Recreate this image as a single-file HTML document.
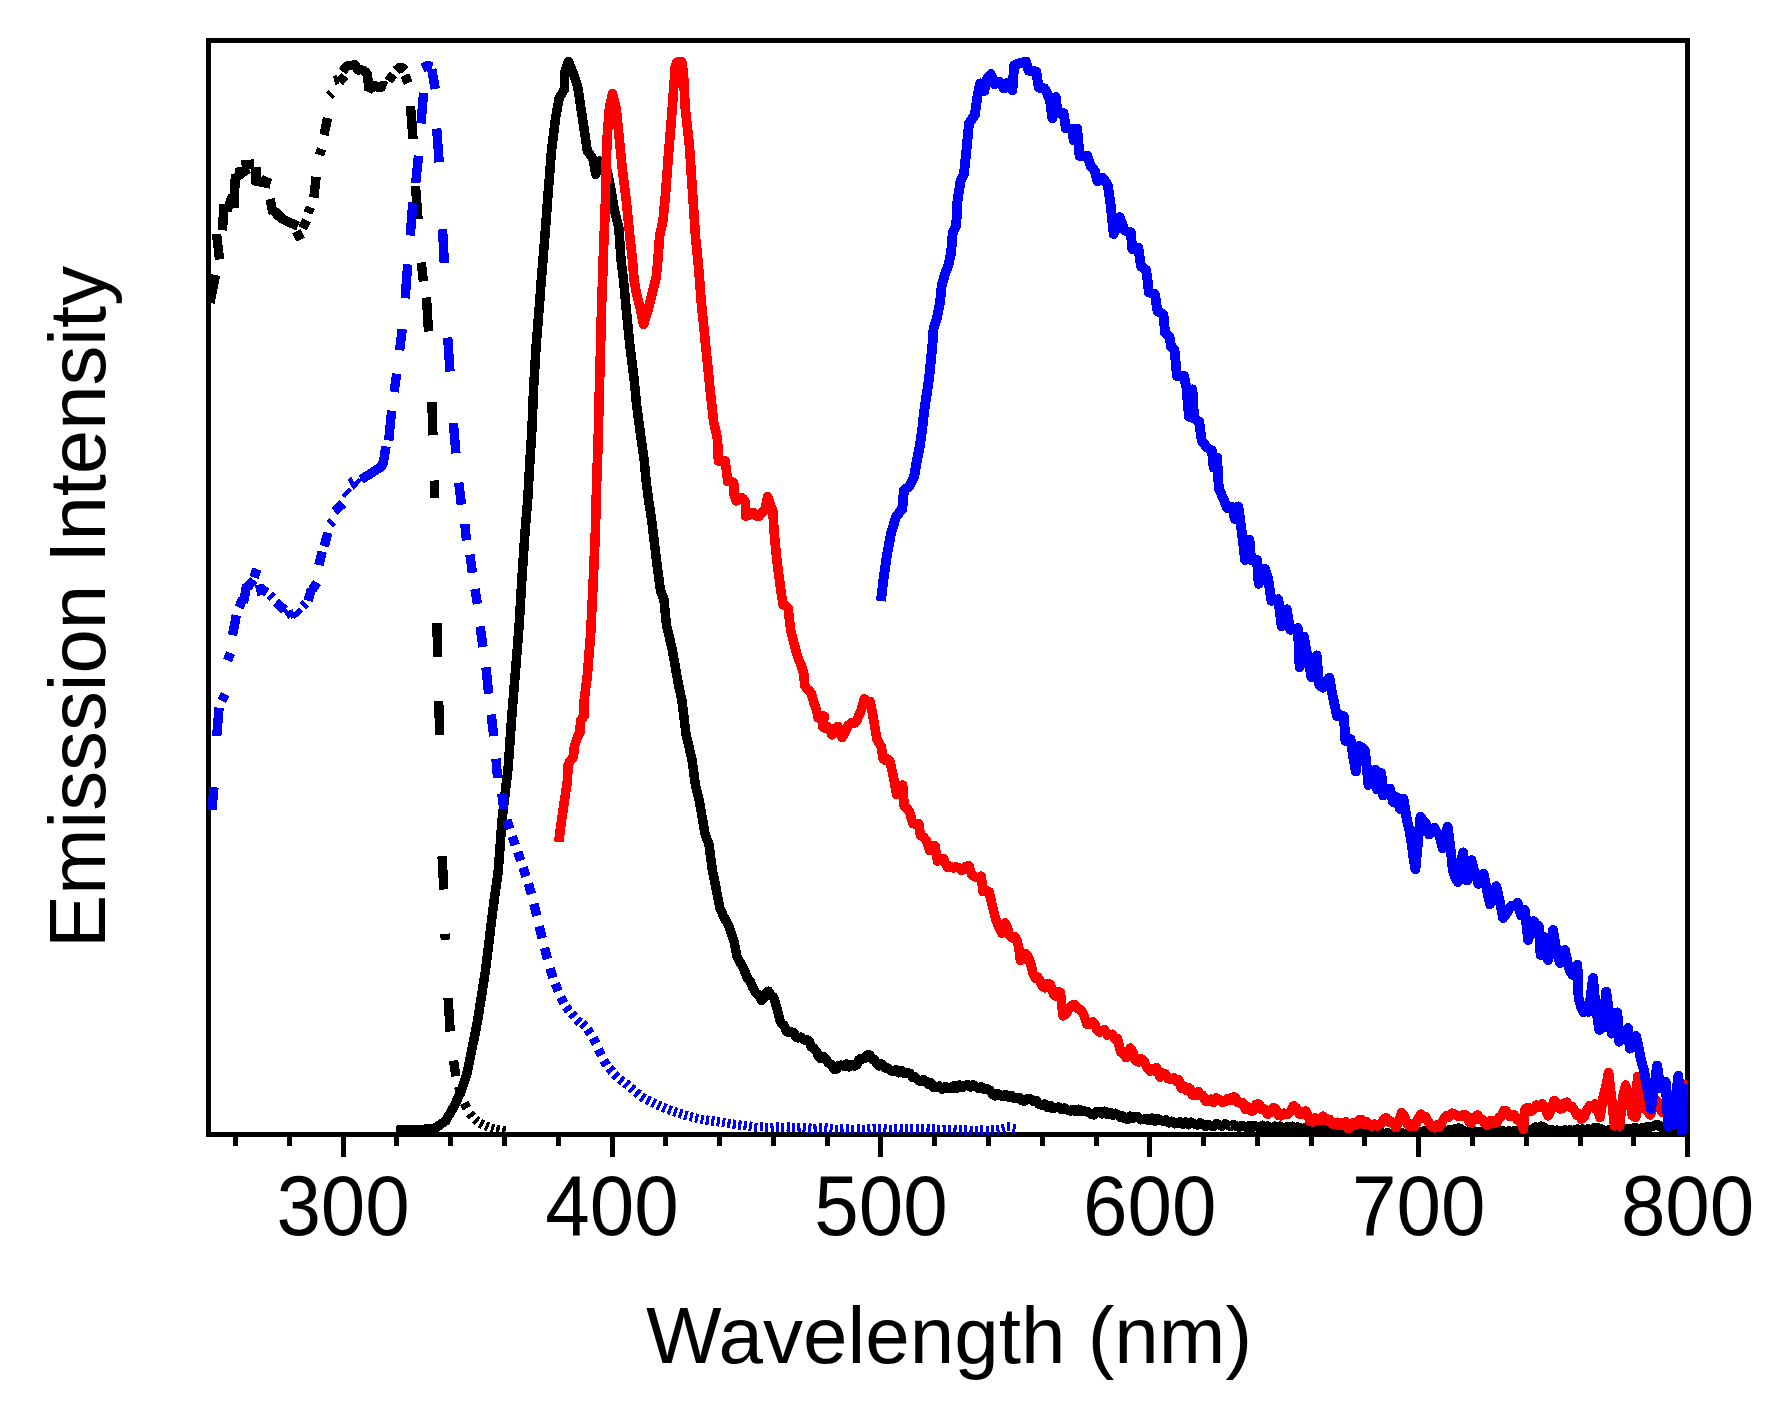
<!DOCTYPE html>
<html lang="en"><head><meta charset="utf-8"><title>Emission spectra</title>
<style>html,body{margin:0;padding:0;background:#fff}svg{display:block}text{font-family:"Liberation Sans",sans-serif;fill:#000}</style></head><body>
<svg width="1778" height="1410" viewBox="0 0 1778 1410">
<rect width="1778" height="1410" fill="#fff"/>
<defs><clipPath id="c"><rect x="208.0" y="40.6" width="1479.8" height="1094.1"/></clipPath></defs>
<g fill="none" stroke="#000" shape-rendering="crispEdges">
<rect x="208.7" y="40.6" width="1478.9" height="1093.8" stroke-width="5"/>
<path d="M235.6 1134.4 V1145.8 M289.4 1134.4 V1145.8 M343.1 1134.4 V1156.6 M396.9 1134.4 V1145.8 M450.7 1134.4 V1145.8 M504.5 1134.4 V1145.8 M558.3 1134.4 V1145.8 M612 1134.4 V1156.6 M665.8 1134.4 V1145.8 M719.6 1134.4 V1145.8 M773.4 1134.4 V1145.8 M827.1 1134.4 V1145.8 M880.9 1134.4 V1156.6 M934.7 1134.4 V1145.8 M988.5 1134.4 V1145.8 M1042.3 1134.4 V1145.8 M1096 1134.4 V1145.8 M1149.8 1134.4 V1156.6 M1203.6 1134.4 V1145.8 M1257.4 1134.4 V1145.8 M1311.2 1134.4 V1145.8 M1364.9 1134.4 V1145.8 M1418.7 1134.4 V1156.6 M1472.5 1134.4 V1145.8 M1526.3 1134.4 V1145.8 M1580 1134.4 V1145.8 M1633.8 1134.4 V1145.8 M1687.6 1134.4 V1156.6" stroke-width="5"/>
</g>
<g clip-path="url(#c)" fill="none" stroke-linejoin="round" shape-rendering="crispEdges">
<path d="M396.2 1130.3 L398.9 1130.2 L401.6 1130.2 L404.3 1130.1 L406.9 1130 L409.6 1129.9 L412.3 1129.9 L415 1129.8 L417.8 1129.6 L420.6 1129.5 L423.4 1129.3 L426.1 1129.1 L428.9 1128.9 L431.7 1128.8 L434.5 1128.6 L437.2 1126.7 L440 1124.8 L442.8 1122.9 L445.5 1121 L448.5 1115.9 L451.5 1110.7 L454.5 1105.6 L456.8 1100.5 L459.2 1095.4 L461.5 1090.3 L464.2 1081.8 L467 1073.2 L469.6 1060.5 L472.2 1047.7 L474.8 1035 L477.3 1022.2 L479.4 1009.4 L481.4 996.6 L485.4 971.1 L488.6 945.5 L491 925 L493.6 904.3 L496 887.3 L498.3 870.3 L502.1 819.2 L505.1 793.7 L508.1 768.1 L511.5 720 L513.6 693.6 L515.8 667.3 L519.2 624.7 L521.7 582.2 L525.1 531.1 L527.7 500 L529.7 464.3 L531.9 430.3 L533.6 387.7 L536.2 345.1 L539.6 302.6 L541.3 280 L543.5 253.7 L545.6 227.3 L548.1 193.2 L551.5 150.7 L553.6 133.6 L555.8 116.6 L559.2 97.9 L561.8 93.7 L564.3 89.4 L564.6 72.4 L568.5 61.3 L571 67.7 L573.6 74 L575.8 80.8 L577.9 87.7 L580 102.2 L582.2 116.6 L584.8 133.6 L587.3 150.7 L590.2 154.9 L593.2 159.2 L595.8 174.5 L599.5 161 L603 163 L607 170 L611 190 L614.5 210.3 L616.6 218.8 L618.8 227.3 L621 260 L623.5 280 L625.6 302.6 L627.7 323.9 L629.8 345.1 L632 362.1 L634.1 379.2 L636.6 404.7 L640 430.3 L642.1 445.6 L644.3 460.9 L646 480 L648.6 500 L652 522.6 L654.5 543.9 L657.1 565.1 L660.5 590.7 L663.9 599.2 L666.4 624.7 L669.4 637.5 L672.4 650.3 L675.4 667.3 L678.4 684.3 L681.8 700 L684.3 720 L686 734.1 L689 746.9 L692 759.6 L695.4 785.1 L697.5 793.7 L699.6 802.2 L702.2 817.5 L704.8 832.8 L706.9 838.8 L709 844.7 L712.4 870.3 L715 883 L717.5 895.8 L720 908.5 L723.5 916.2 L726 920.9 L728.5 925.5 L731.1 932.8 L733.7 940 L737 956.2 L739.8 961.9 L742.7 966.5 L745.5 973.2 L747.8 979 L750.1 981.2 L752.4 986.8 L755.5 992.6 L758.6 994.6 L761.7 1000.5 L764 998.2 L766.2 993.4 L768.5 991.1 L771 995.6 L773.6 997.1 L776.6 1007.1 L779.6 1019.2 L781.9 1024.2 L784.1 1025.5 L786.4 1031.1 L789 1032.7 L791.5 1032 L793.8 1032.5 L796 1037.1 L798.3 1037.9 L801.1 1037.2 L804 1040 L806.8 1039.6 L809.1 1041.1 L811.3 1046.8 L813.6 1048.1 L816.2 1051.1 L818.8 1056.6 L821.1 1058.6 L823.3 1056.5 L825.6 1058.4 L828.4 1062.9 L831.3 1064.3 L834.1 1069.4 L836.4 1069.3 L838.6 1065.6 L840.9 1065.2 L843.6 1066.2 L846.3 1064 L849.1 1066.9 L851.8 1064.5 L854.5 1066 L856.8 1065 L859 1059.6 L861.3 1058.4 L864.1 1058.8 L867 1055 L869.8 1054.9 L872.1 1059.2 L874.3 1059.5 L876.6 1063.5 L878.9 1065.9 L881.2 1063.7 L883.5 1066 L885.8 1068.3 L888 1068 L890.3 1070.3 L893.1 1071.7 L896 1069.6 L898.8 1072.7 L901.6 1070.7 L904.5 1073.4 L907.3 1072.8 L909.8 1073.3 L912.4 1077.3 L915 1076.8 L917.5 1079.6 L920.3 1081.4 L923.2 1079.5 L926 1081.3 L928.5 1084.3 L931.1 1083 L933.7 1087.3 L936.2 1087.3 L939.2 1086 L942.2 1089.3 L945.2 1086.6 L948.2 1088.2 L951 1088.7 L953.9 1085.8 L956.7 1088.5 L959.5 1084.9 L962.4 1087.3 L965.2 1085.6 L967.8 1084.4 L970.3 1087 L972.9 1084.7 L975.4 1086.4 L978.4 1088.3 L981.3 1086.7 L984.3 1089.2 L987.3 1089 L989.8 1090.1 L992.4 1094.1 L994.9 1095.9 L997.5 1093.7 L1000 1094.8 L1002.8 1096.7 L1005.6 1094.5 L1008.5 1097 L1011.3 1095.5 L1014.1 1098.4 L1016.9 1097.4 L1019.4 1097.6 L1021.9 1100.7 L1024.7 1101 L1027.6 1098.3 L1030.4 1099 L1033.4 1101.3 L1036.3 1100.6 L1039.2 1104.6 L1042.2 1105 L1044.9 1104 L1047.6 1107.6 L1050.3 1105.3 L1053 1108.6 L1055.7 1107.5 L1058.7 1107.1 L1061.6 1109.6 L1064.5 1108.1 L1067.5 1110 L1070.3 1111 L1073.1 1109.3 L1076 1111.6 L1078.8 1109.3 L1081.6 1111.7 L1084.4 1110.9 L1087.8 1111.7 L1091.1 1114.2 L1093.9 1114.9 L1096.7 1111.5 L1099.5 1111.7 L1102.2 1113.8 L1104.8 1111.2 L1107.5 1114.3 L1110.1 1112.5 L1112.8 1115.3 L1115.4 1113.3 L1118.1 1115.1 L1120.4 1117.5 L1122.6 1116.1 L1124.9 1118.5 L1127.4 1119.4 L1130 1116.1 L1132.5 1118.4 L1135 1116.8 L1137.8 1116.5 L1140.6 1119.8 L1143.4 1119.3 L1146.2 1118.4 L1149 1120.6 L1151.8 1118.1 L1154.7 1121.1 L1157.5 1118.7 L1160.3 1120.1 L1163.1 1121.4 L1165.9 1119.9 L1168.8 1122.8 L1171.6 1121.2 L1174.4 1123.8 L1177.2 1123 L1180 1121.8 L1182.8 1124.1 L1185.6 1122 L1188.4 1124.6 L1191.2 1122.2 L1194 1123.7 L1197 1125 L1200 1122.9 L1203 1124.5 L1205.6 1126.3 L1208.3 1124.5 L1210.9 1125.8 L1213.6 1126.2 L1216.3 1123.7 L1219 1124.6 L1221.9 1126.3 L1224.9 1123.9 L1227.8 1125 L1230.5 1126.5 L1233.3 1124.4 L1236 1126 L1238.9 1127.3 L1241.7 1125.3 L1244.6 1126.6 L1247.1 1127.6 L1249.6 1125.5 L1252 1127.8 L1254.5 1125.5 L1257 1126.5 L1259.6 1127.8 L1262.2 1125.4 L1264.8 1127.8 L1267.4 1125.9 L1270 1127.3 L1272.5 1128.7 L1275 1126.3 L1277.5 1128.4 L1280 1126 L1282.5 1128.5 L1285 1127.5 L1287.5 1126.6 L1290 1128.8 L1292.5 1126.4 L1295 1128.7 L1297.5 1126.9 L1300 1128 L1303 1129.4 L1306 1127.3 L1309 1130.3 L1312 1129.5 L1314.6 1127.3 L1317.2 1129.1 L1319.8 1127.5 L1322.2 1128 L1324.6 1130.7 L1327 1131 L1329.6 1130.3 L1332.1 1132.3 L1334.7 1131.2 L1337.3 1132.7 L1339.9 1131.7 L1342.4 1133.3 L1345 1133 L1347.5 1132.1 L1350 1133.9 L1352.5 1132.4 L1355 1133 L1357.5 1132.9 L1360 1131.5 L1362.5 1131.6 L1365 1133.5 L1367.8 1134.3 L1370.6 1132.6 L1373.3 1134.2 L1376.1 1132.9 L1378.9 1134.1 L1381.7 1132.6 L1384.4 1134.1 L1387.2 1132.8 L1390 1133.5 L1392.9 1134.1 L1395.7 1132.6 L1398.6 1134 L1401.4 1132.3 L1404.3 1133.7 L1407.1 1132.6 L1410 1133 L1413 1134 L1416 1132.1 L1419 1133 L1421.5 1132.7 L1424 1130.5 L1426.5 1131 L1429 1133 L1431.7 1133.8 L1434.3 1131.7 L1437 1133.1 L1439.7 1131.5 L1442.3 1133.1 L1445 1132 L1447.5 1130.2 L1450 1130 L1453 1130 L1456 1128.5 L1458.5 1128.1 L1461 1129 L1463.5 1130.9 L1466 1131.5 L1468.8 1131 L1471.6 1132.2 L1474.4 1131 L1477.2 1132.5 L1480 1132 L1482.9 1131 L1485.7 1132.4 L1488.6 1130.8 L1491.4 1132.6 L1494.3 1130.7 L1497.1 1132.5 L1500 1131.5 L1502.9 1130.5 L1505.7 1132.1 L1508.6 1130.8 L1511.4 1132.1 L1514.3 1130.6 L1517.1 1131.7 L1520 1131 L1522.5 1129.8 L1525 1131 L1527.5 1129.2 L1530 1129.5 L1532.8 1129.6 L1535.5 1127 L1538.2 1127.7 L1541 1126.2 L1543.3 1126.8 L1545.7 1129.7 L1548 1130 L1551 1129.5 L1554 1131.4 L1557 1130.1 L1560 1131 L1562.5 1131.4 L1565 1129.9 L1567.5 1131.4 L1570 1129.7 L1572.5 1131.1 L1575 1130 L1577.5 1129 L1580 1130.7 L1582.5 1128.8 L1585 1130.2 L1587.5 1128.8 L1590 1129.5 L1592.3 1129.8 L1594.7 1127.6 L1597 1127.5 L1599.3 1129.1 L1601.7 1128.9 L1604 1130.5 L1606.7 1131.2 L1609.3 1129.6 L1612 1131 L1614.7 1129.3 L1617.3 1130.6 L1620 1130 L1622.5 1129.1 L1625 1129.8 L1627.5 1128.3 L1630 1128.5 L1632.5 1129 L1635 1127.5 L1637.5 1129.4 L1640 1128.5 L1642.5 1127.6 L1645 1128.5 L1647.5 1126.7 L1650 1127 L1653.1 1126.4 L1656.2 1124.5 L1658.8 1125 L1661.4 1127.7 L1664 1128 L1666.8 1127.7 L1669.5 1129.7 L1672.2 1128.9 L1675 1130 L1677.6 1130.8 L1680.2 1129.6 L1682.8 1131.1 L1685.4 1129.5 L1688 1130.5" stroke="#000" stroke-width="9.5"/>
<path d="M558.7 842 L561.7 819.2 L565.5 793.6 L567.5 780 L568 766 L569.5 762 L573.3 757 L574.5 746 L578 736 L580 732 L580.5 721 L584 716 L584.2 700 L587.3 675.8 L590.7 633.2 L593.2 582.2 L595.4 531.1 L596.2 500 L597 470 L598 447.3 L599.2 396.2 L600.6 345.1 L601.7 302.6 L602.6 280 L603.4 252.8 L605.2 210.3 L606 167.7 L607.4 133.6 L609.4 108.1 L612.5 93.6 L616.2 108.1 L618.8 133.6 L622.2 167.7 L624.3 184.8 L626.4 201.8 L629.8 235.8 L632.4 260 L634.1 280 L636.6 294 L638.8 302.5 L640.9 311 L643.5 324.7 L645.6 317.9 L647.7 311 L649.9 302.5 L652 294 L654.1 285.5 L656.2 277 L657.9 260 L659.6 235.8 L663 220.5 L665.6 193.2 L668.1 159.2 L671.6 116.6 L674.1 82.6 L675.3 66 L676.8 62.3 L679.3 62 L681.8 61.8 L683.5 74 L685.2 108.1 L687.3 126.8 L689.4 145.6 L692 184.7 L695.4 235.8 L697.9 260 L699.6 280 L701.3 302.6 L703.5 323.9 L705.6 345.1 L707.8 366.4 L709.9 387.7 L713.6 421.8 L717.5 438.8 L718.4 460.9 L720.7 460.2 L722.9 462 L725.2 460.9 L727.7 481.3 L730.7 481.1 L733.7 483 L733.7 493.3 L736.2 500.9 L738.8 500 L741.3 497.5 L743.5 499.2 L745.6 502.6 L745.6 516.2 L748.5 515.4 L751.5 512.8 L754.1 512.9 L756.6 516.1 L759.2 516.2 L762.2 512.1 L765.1 509.4 L767.7 496.6 L770.2 504.5 L772.8 511.1 L774.5 536.6 L777.1 562.2 L780.5 587.7 L783 604.7 L785.5 605.3 L788.1 608.1 L790.7 630.3 L794.1 643.9 L796.7 653.3 L799.2 660.9 L801.5 666.2 L803.8 673.6 L804.7 685.5 L807 689 L809.2 690.4 L811.5 694.1 L813.6 701.9 L815.8 707.7 L818.3 717.9 L821.3 716.3 L824.3 716.2 L822.6 726.4 L824.9 728.1 L827.1 726.4 L829.4 728.1 L831.9 734.9 L834.9 731.3 L837.9 726.4 L840 731.3 L842.1 737.5 L845.1 732.5 L848.1 725.6 L850.9 723 L853.8 723.6 L856.6 721.3 L858.8 715.5 L860.9 711.1 L864.3 698.8 L867.2 701.1 L870.2 701.7 L873.6 719.6 L877.1 740 L879.2 742.8 L881.3 746.8 L883 758.8 L885.3 760.1 L887.5 759.1 L889.8 760.5 L893.2 775.8 L896.6 794.5 L899.6 790.7 L902.6 785.1 L904.3 806.4 L906.8 808.2 L909.4 811.5 L912.8 823.5 L915.8 824.2 L918.8 823.5 L920.5 835.4 L923.5 837.2 L926.4 840.5 L929.8 850.7 L932.3 849 L934.9 845.6 L937.5 860.9 L940.5 858.9 L943.5 858.4 L945.6 863.7 L947.7 867.7 L950.5 866.3 L953.4 868.1 L956.2 866.9 L958.8 867.6 L961.3 870.3 L963.9 869.6 L966.4 866.2 L969 866 L971.6 874.5 L975.3 877 L978.3 877.7 L981.3 876.2 L983 891.5 L986 890.8 L989 891.5 L992.4 906 L995.8 919.6 L998.8 927.2 L1001.7 933.2 L1005.1 923 L1007.2 926.9 L1009.4 934.9 L1012 937.8 L1014.5 936.6 L1016.6 939.4 L1018.7 946.8 L1020.4 960.5 L1023 958.8 L1025.6 953.6 L1028.2 956.6 L1030.7 963.9 L1033.2 974.1 L1035.5 978.4 L1037.7 977.1 L1040 980.9 L1042.5 986.2 L1045.1 987.7 L1047.7 983.7 L1050.2 984.3 L1053.6 994.5 L1055.9 996.1 L1058.2 991.6 L1060.5 992.8 L1063 1015.8 L1066 1013.9 L1069 1008.1 L1072 1005.2 L1074.9 1004.7 L1077.9 1008.7 L1080.9 1009.8 L1083.9 1014.9 L1086.9 1024.3 L1089.8 1024.7 L1092.8 1021.8 L1094.9 1024.6 L1097.1 1030.3 L1099.7 1032.2 L1102.2 1030.3 L1104.7 1029.7 L1107.3 1035.1 L1109.8 1034.5 L1112.4 1034.3 L1114.9 1039.1 L1117.5 1038.8 L1120.9 1052.4 L1123.5 1053.1 L1126 1057.5 L1128.2 1054.9 L1130.3 1048.1 L1132.8 1052.3 L1135.4 1060.1 L1138.2 1062 L1141.1 1058.8 L1143.9 1060.9 L1146.9 1067.2 L1149.9 1071.1 L1152.2 1068.7 L1154.4 1070.9 L1156.7 1067.7 L1160.1 1077.1 L1162.7 1073 L1165.2 1073.7 L1168.2 1078.6 L1171.1 1079.6 L1173.7 1077.9 L1176.2 1081 L1178.8 1079.6 L1181.4 1088.2 L1183.7 1086.1 L1185.9 1090 L1188.2 1087.3 L1190.3 1089 L1192.4 1095 L1195.4 1095.1 L1198.4 1091.6 L1200 1095.7 L1202.8 1095.4 L1205.6 1101.1 L1208.4 1101.6 L1211 1099.1 L1213.5 1102.6 L1216 1097.8 L1218.6 1099 L1221.9 1102.1 L1225.3 1101.6 L1227.6 1098.7 L1229.8 1100.7 L1232.1 1097.4 L1234.9 1097 L1237.7 1102.5 L1240.5 1103.3 L1243 1103.1 L1245.5 1109.3 L1248.1 1106.7 L1250.6 1110.9 L1253.4 1110.7 L1256.2 1104.2 L1259 1104.1 L1261.8 1109.3 L1264.7 1109 L1267.5 1114.2 L1270.5 1112.6 L1273.4 1107.5 L1275.9 1109 L1278.5 1115.3 L1281 1115.9 L1284.3 1113.2 L1287.7 1114.2 L1290.7 1111.4 L1293.6 1105.8 L1296.5 1108.2 L1299.5 1114.2 L1302.5 1114.3 L1305.5 1110.9 L1307.6 1114.3 L1309.7 1121 L1312.5 1122 L1315.3 1118 L1318.1 1119.3 L1320.4 1120.7 L1322.6 1116.2 L1324.9 1117.6 L1327.4 1121 L1330 1119.8 L1332.5 1124.2 L1335 1124.4 L1337.8 1122.4 L1340.6 1125.2 L1343.4 1122.7 L1345.7 1122.1 L1347.9 1128.2 L1350.2 1127.7 L1353 1123 L1355.8 1124.8 L1358.6 1120.1 L1361.1 1119.7 L1363.7 1124.5 L1366.2 1121.3 L1368.7 1124.4 L1371.5 1126.2 L1374.4 1124.2 L1377.2 1126 L1380.6 1123.9 L1383.9 1119.3 L1386.2 1117.8 L1388.4 1121.9 L1390.7 1121 L1393.2 1123 L1395.7 1127.7 L1398.7 1122 L1401.6 1112.5 L1404.1 1115.4 L1406.7 1122.8 L1409.2 1126 L1411.5 1124.1 L1413.7 1126.8 L1416 1124.4 L1418.5 1117.9 L1421 1114.2 L1423.3 1118 L1425.5 1116.7 L1427.8 1121 L1431.2 1126.1 L1434.5 1127.7 L1436.8 1125 L1439 1127.3 L1441.3 1124.4 L1443.8 1118.9 L1446.3 1115.9 L1449.1 1117 L1452 1113.1 L1454.8 1114.2 L1458.2 1116.5 L1461.5 1115.9 L1464 1114.6 L1466.6 1115.9 L1469.1 1121.6 L1471.6 1122.7 L1474.5 1117.1 L1477.5 1115.1 L1480 1119.7 L1482.6 1119.4 L1485.1 1124.4 L1487.4 1125.4 L1489.6 1120.9 L1491.9 1121 L1494.4 1123 L1496.9 1122.6 L1499.2 1117.3 L1501.6 1116.7 L1503.9 1110.7 L1506.4 1111 L1509 1116.1 L1511.5 1115.8 L1514.3 1114.9 L1517.2 1119.9 L1520 1119.2 L1523.4 1129.4 L1525.1 1109 L1527.9 1107.5 L1530.8 1111.4 L1533.6 1109 L1536.5 1105.1 L1539.3 1107.4 L1542.2 1103.9 L1545.2 1108.4 L1548.1 1115.8 L1551.1 1110.1 L1554.1 1100.5 L1557 1103.1 L1560 1109 L1562.3 1108.6 L1564.6 1102.9 L1566.9 1102.2 L1569.4 1107 L1572 1106.6 L1574.5 1110.7 L1576.8 1115.1 L1579 1114 L1581.3 1119.2 L1584.3 1116.4 L1587.3 1109 L1589.8 1105.7 L1592.4 1107.8 L1594.9 1103.9 L1597.5 1109.1 L1600 1117.5 L1603.5 1095.4 L1606 1086.2 L1608.6 1072.4 L1612 1102.2 L1614.5 1126 L1617 1123.9 L1619.6 1126 L1623 1095.4 L1625.6 1085.1 L1629 1095.4 L1632.4 1115.8 L1635.8 1117.5 L1637.5 1076.6 L1639.7 1082.5 L1641.8 1085.1 L1644.3 1109 L1647.2 1110.5 L1650 1115 L1653 1108.7 L1656 1100 L1659 1103.7 L1662 1112 L1665 1106.2 L1668 1098 L1670.3 1095 L1672.7 1098.6 L1675 1095.4 L1677.5 1098.3 L1680 1105 L1682.6 1096.5 L1685.2 1085.1 L1688 1090" stroke="#f00" stroke-width="9.6"/>
<path d="M880.9 601 L883.5 579.2 L886.9 555.4 L889 544.3 L891.1 533.2 L893.7 524.7 L896.2 516.2 L899.2 512.8 L902.2 509.4 L903.9 490.6 L906.9 488.1 L909.9 485.5 L912 481.2 L914.1 477 L916.2 464.3 L919.6 447.3 L922.1 430.3 L923.9 413.2 L926.4 396.2 L929 379.2 L930.7 362.2 L932.4 345.1 L933.6 328.1 L936.6 319.6 L940 302.6 L941.7 285.5 L945.1 273.6 L948.5 264.8 L951.1 252.8 L952.8 232.4 L956.2 225.6 L957.4 201.8 L960.5 181.3 L963.9 174.5 L966.4 150.7 L969 123.4 L972 119.2 L974.9 114.9 L977.5 96.2 L980 83.4 L982.1 87.2 L984.3 91.1 L986.9 79.2 L990.8 74.1 L994.5 84.3 L997 83 L999.6 81.7 L1001.8 85.1 L1003.9 88.5 L1007.3 82.6 L1009.8 86.4 L1012.4 90.2 L1014.1 65.5 L1017 64.2 L1020 63 L1023 62.4 L1026 61.8 L1028.6 70.6 L1031.1 70.9 L1033.7 71.2 L1036.2 71.5 L1038.8 87.7 L1041.8 88.1 L1044.7 88.5 L1047.3 94 L1049.9 99.6 L1052.4 118.3 L1055.8 97 L1057.5 113.2 L1060.5 113.2 L1063.5 113.2 L1066 128.5 L1069 128.5 L1072 128.5 L1073.7 140.5 L1077.1 128.5 L1079.6 155.8 L1082.2 155.8 L1084.7 155.8 L1087.3 155.8 L1090.7 166 L1092.8 168.6 L1095 171.1 L1097.5 181.3 L1100 179.6 L1102.6 177.9 L1105.2 181.3 L1107.7 184.7 L1110.3 201.8 L1113.7 234.1 L1116.7 225.6 L1119.7 217.1 L1122.2 223.9 L1124.8 230.7 L1127.8 231.6 L1130.7 232.4 L1132.4 249.4 L1135.4 248.6 L1138.4 247.7 L1141 266.5 L1143.5 268.2 L1146.1 269.9 L1147.2 277 L1148.9 292.4 L1151.9 293.2 L1154.9 294.1 L1157.5 311.1 L1160.5 312.8 L1163.4 314.5 L1165.1 333.2 L1167.2 334.9 L1169.4 336.6 L1171.1 346.8 L1174.5 350.2 L1177 375.8 L1179.3 375.8 L1181.6 375.8 L1183.9 375.8 L1186.4 387.7 L1189 416.7 L1192.4 389.4 L1194.1 418.4 L1196.7 420.1 L1199.2 421.8 L1201.7 440.5 L1204.2 443.9 L1206.8 447.3 L1209.3 449 L1211.9 450.7 L1213.6 467.7 L1217.1 457.5 L1218.8 488.2 L1221.3 494.1 L1223.9 500 L1227.2 508.1 L1229.8 507.6 L1232.4 507.2 L1234.9 519.2 L1238.3 506.4 L1241.7 531.1 L1245.1 560 L1247.2 549.8 L1249.4 539.6 L1251.1 560 L1254 560 L1257 560 L1258.7 583.9 L1261.7 576.2 L1264.7 568.5 L1268.1 578.8 L1271.5 600.9 L1273.8 600.3 L1276 599.8 L1278.3 599.2 L1281.7 626.4 L1284.2 617.9 L1286.8 609.4 L1290.2 629.8 L1292.8 629.2 L1295.3 628.7 L1297.9 628.1 L1299.6 667.3 L1301.8 650.5 L1303.9 636.6 L1306 649.2 L1308.1 658.8 L1311.5 677.5 L1314 665.7 L1316.6 655.4 L1319.2 684.3 L1321.3 686.8 L1323.4 687.7 L1326.4 681.2 L1329.4 677.5 L1331.5 690.1 L1333.6 700 L1337 716.2 L1339.3 714.9 L1341.5 717.2 L1343.8 716.2 L1345.5 740.9 L1348 738.8 L1350.6 739.2 L1353.2 756.6 L1355.8 771.5 L1359.2 746 L1362.2 747.4 L1365.1 751.1 L1368.5 785.1 L1370.8 780.9 L1373 773.8 L1375.3 769.8 L1377 789.4 L1379.2 782.3 L1381.3 773.2 L1383 795.4 L1385.3 791.8 L1387.5 792.3 L1389.8 788.5 L1393.2 802.2 L1396.6 797.1 L1400 809 L1403.4 798.8 L1406.8 819.2 L1408.9 827.9 L1411.1 839.6 L1413.2 855.7 L1415.4 869.4 L1418 841.9 L1420.5 816.6 L1423 820.6 L1425.6 822.6 L1429 834.5 L1431.5 830.3 L1434.1 827.7 L1436.7 831.9 L1439.2 834.5 L1442.6 848.1 L1445.2 836.4 L1447.7 826.9 L1451.1 853.2 L1452.8 870.3 L1455.3 877.2 L1457.9 882.2 L1460.5 866.3 L1463 852.4 L1465.2 867.9 L1467.3 880.5 L1469.4 869.1 L1471.5 860 L1473.8 869.1 L1476.1 875 L1478.4 883.9 L1481 879.6 L1483.5 873.7 L1486.2 886.2 L1490 904.3 L1493.1 894.3 L1496.2 886.2 L1500 902.5 L1503.1 918.1 L1505.9 914.6 L1508.7 909.3 L1511.6 905.9 L1514.6 906.3 L1517.5 902.5 L1521.2 915.6 L1524.9 910 L1528.1 939.9 L1530.9 929.3 L1533.7 921.2 L1536.2 924.6 L1538.7 926.2 L1540.6 954.9 L1542.8 944.7 L1544.9 937.4 L1548 959.9 L1550.5 946.2 L1553 929.9 L1556.2 949.9 L1559.9 963 L1562.4 955.1 L1564.9 949.9 L1568 964.9 L1570.2 971.3 L1572.4 974.9 L1574.9 968.6 L1577.4 964.9 L1578.6 998.6 L1581.1 1006.8 L1583.6 1012.4 L1586.1 1011 L1588.6 1011.7 L1590.8 996.3 L1593 978 L1595.5 1004.9 L1599.2 1029.8 L1603 1027.3 L1606.1 991.7 L1609.9 1017.3 L1611.7 1033.6 L1614.5 1021.5 L1617.3 1012.4 L1619.2 1041.7 L1622.1 1038 L1625.1 1031.3 L1628 1028 L1629.8 1048.6 L1632.9 1043.6 L1636.1 1036.1 L1638.5 1046.8 L1640.9 1059.6 L1644.3 1071.5 L1646.6 1085.1 L1648.8 1095.4 L1651.1 1109 L1654.1 1088.7 L1657.1 1065.6 L1660.5 1088.5 L1663 1084 L1665.6 1081.7 L1668.2 1126 L1670.8 1125.7 L1673.3 1122.6 L1675.8 1098.2 L1678.4 1075.8 L1681.8 1132.8 L1683.9 1112.1 L1686 1088.5 L1688 1100" stroke="#00f" stroke-width="9.9"/>
<path d="M210 303 L215.5 275 M216.5 234 L219.6 259.4 M222.5 230.4 L223.9 204.5 M226.7 211 L232.7 195.3 M234 208 L235.4 174 M236.8 177 L248.3 168.6 M241.5 165 L254 164 M235.5 172.5 L246 171 M256.2 166.7 L255.7 184.3 M253 180.6 L270.5 184 M261 179.5 L270.5 183.5 M270 199 L273.2 213.8 M275.1 213.8 L286.1 221.1 M274.5 211 L283 219.5 M285.5 220.5 L298 226.3 M296.6 231.3 L300.6 239.5 M302.6 228.5 L306.6 220.3 M308 213 L310.4 207.2 M313.8 197.6 L316.1 176.9 M319.4 155 L321.6 149 M324 135 L327.5 118 M329.4 95.7 L331.8 93.3 M334.2 80.5 L338 79.5 M339.5 82 L345 76 M342.5 71.5 L346 67 L349 65 L351 66.5 L353 64.5 L355.5 65 L357 69 L360 70.5 L362 69 L364.5 71.5 L367 73 L368 80 L368.8 90 L372 87.5 L376 85.5 L379.5 88 L383 85 L386.5 86.5 M388.5 81 L393.3 74.3 M396 70.5 L399.5 67.5 L402 67 L405 70.5 M404.8 75.3 L408.4 83 M410.5 106 L413 139 M415.5 186 L418 219 M421.3 262.5 L423.4 281.3 M426.5 297.5 L428.5 331.5 M431.9 402 L432.9 435.4 M434.3 480.5 L434.6 497.9 M437 623 L437.5 657 M438.7 701.3 L439.7 734.9 M442.1 856.3 L443.8 889.5 M445 933.7 L445.3 939.7 M448.1 998 L450.2 1031.5 M453.6 1060.5 L455.8 1076.3 M459 1087 L460.3 1096.5" stroke="#000" stroke-width="9.4" stroke-linejoin="bevel"/>
<path d="M464.1 1102.9 L467.1 1108.1 M469.8 1113.4 L472.2 1116.8 M475.2 1119.3 L477.8 1121.5 M479.9 1123.2 L482.9 1124.8 M485.5 1125.8 L488.5 1127 M490.9 1128.2 L493.9 1129 M496.2 1129.1 L499.6 1129.7 M502.2 1130.2 L505.5 1130.8" stroke="#000" stroke-width="9.4"/>
<path d="M214 787.2 L211.9 809.8 M219.1 707.7 L216.7 736.1 M225 694 L222 701 M230.5 653 L227.5 660.5 M236.3 615.2 L232.6 635.2 M239 607.5 L243 598 M243.4 602.8 L246.8 584.6 M247.5 587 L254 580 M254 577.5 L257 569 M259.5 584.5 L262 595 M258.5 588 L267 592.5 M269.8 594.9 L272.8 597.9 M276 602 L284.5 610 M302.8 606.5 L305.8 603.3 M308.1 600.8 L311.5 588.7 M312.5 589.5 L317 582.5 M322.2 551.6 L318.9 565.1 M327.9 532.8 L324.3 546.2 M329.5 524.2 L332.5 521.2 M334.5 511.5 L343 503.5 M361 479.5 L363.5 478 L370 474 L376 470 L381 467 L383.5 462 L384.5 455 L386 446.4 M391.6 410.7 L388.7 440.5 M396.7 373.7 L394.1 392 M402.3 329 L399.6 350.2 M407.7 264.3 L405.2 298.3 M412.8 202.6 L410.3 235.5 M418.5 155.8 L415.7 183 M423.6 92.8 L421 123.4 M422.5 68 L427 65.5 L432.5 66.5 M431.8 69 L435.2 89 M436.7 128.5 L439.2 162.3 M442.6 229.3 L444.3 263 M447.7 337.5 L450 371.5 M453.4 423 L455.9 453.3 M458.8 482.7 L461.4 504.7 M464.8 524 L466.5 540.4 M469.9 554.6 L472.4 572.8 M475 589 L477.5 604 M480.1 626.4 L483 646.9 M486 667.3 L488.6 693.7 M491.2 714.5 L493.7 736.1 M495.9 758.7 L497.6 778 M501.8 793.6 L503.8 809" stroke="#00f" stroke-width="9.4" stroke-linejoin="bevel"/>
<path d="M349.5 478 L354 486.5 L360 479 M343.5 496.5 L350.5 489 M284.5 609.5 L290 617.5 M290.5 610 L293.5 618 M292.5 617.5 L296.5 613.5" stroke="#00f" stroke-width="4.4" stroke-linejoin="miter"/>
<path d="M295 615.5 L301 609.5" stroke="#00f" stroke-width="6"/>
<path d="M506.9 819.8 L509.9 828.8 M512.3 836.3 L515.3 845.1 M517.7 851.9 L520.6 860.5 M523.1 867.6 L526 876.6 M528.4 883.6 L531.4 894 M533.8 903.9 L536.8 915.8 M539.2 926.3 L542.2 938.3 M544.6 947.8 L547.5 959 M550 968.3 L552.9 977.7 M555.3 983.7 L558.3 991.1 M560.7 997 L563.7 1003 M566.1 1006.7 L569.1 1010.9 M571.5 1013.5 L574.4 1016.8 M576.9 1019.7 L579.8 1022.4 M582.2 1023.5 L585.2 1026.4 M587.6 1029.3 L590.6 1033.7 M593 1038 L596 1043.7 M598.4 1049.3 L601.3 1055.3 M603.8 1060.4 L606.7 1065.2 M609.1 1068.1 L612.1 1071.6 M614.5 1074.4 L617.5 1077.3 M619.9 1079.2 L622.9 1081.5 M625.3 1083 L628.2 1085.4 M630.7 1087.5 L633.6 1089.9 M636 1091.9 L639 1094.4 M641.4 1096.5 L644.4 1098.5 M646.8 1099.6 L649.8 1101.1 M652.2 1102.3 L655.1 1103.7 M657.6 1104.9 L660.5 1106.2 M662.9 1107.2 L665.9 1108.5 M668.3 1109.4 L671.3 1110.6 M673.7 1111.4 L676.7 1112.4 M679.1 1113.3 L682 1114.3 M684.4 1115.1 L687.4 1115.9 M689.8 1116.5 L692.8 1117.2 M695.2 1117.8 L698.2 1118.5 M700.6 1119.1 L703.6 1119.7 M705.9 1120 L709 1120.5 M711.3 1120.8 L714.4 1121.2 M716.7 1121.6 L719.8 1122 M722.1 1122.4 L725.1 1122.9 M727.4 1123.2 L730.5 1123.7 M732.8 1124.1 L735.9 1124.5 M738.2 1124.9 L741.3 1125.3 M743.6 1125.5 L746.7 1125.8 M749 1126 L752 1126.5 M754.3 1127.2 L757.4 1127.4 M759.7 1126.7 L762.8 1126.8 M765.1 1127.6 L768.2 1127.8 M770.5 1127.6 L773.6 1127.3 M775.9 1126.9 L778.9 1126.9 M781.2 1127.5 L784.3 1127.5 M786.6 1126.8 L789.7 1126.9 M792 1127.6 L795.1 1127.7 M797.4 1127.4 L800.5 1127.3 M802.8 1127.4 L805.8 1127.7 M808.1 1127.9 L811.2 1128.3 M813.5 1128.8 L816.6 1128.7 M818.9 1127.9 L822 1127.7 M824.3 1127.9 L827.4 1128.2 M829.7 1128.5 L832.7 1128.9 M835 1129.2 L838.1 1129.3 M840.4 1128.9 L843.5 1128.8 M845.8 1128.6 L848.9 1128.8 M851.2 1129.7 L854.3 1129.6 M856.6 1128.5 L859.6 1128.5 M861.9 1129.7 L865 1129.8 M867.3 1129.2 L870.4 1128.9 M872.7 1128.9 L875.8 1128.7 M878.1 1128.6 L881.2 1128.6 M883.5 1128.6 L886.5 1128.8 M888.8 1129.4 L891.9 1129.2 M894.2 1128.3 L897.3 1128.2 M899.6 1128.6 L902.7 1128.8 M905 1128.9 L908.1 1128.9 M910.4 1128.6 L913.4 1128.6 M915.7 1129 L918.8 1128.9 M921.1 1128.4 L924.2 1128.3 M926.5 1128.4 L929.6 1128.5 M931.9 1128.5 L935 1128.8 M937.3 1129.4 L940.3 1129.5 M942.6 1129.3 L945.7 1129.2 M948 1129.2 L951.1 1129.4 M953.4 1129.8 L956.5 1130 M958.8 1130 L961.9 1129.9 M964.2 1129.8 L967.2 1130 M969.5 1130.6 L972.6 1130.8 M974.9 1130.8 L978 1130.6 M980.3 1130.1 L983.4 1130 M985.7 1130.4 L988.8 1130.4 M991.1 1130.2 L994.1 1130.1 M996.4 1130.2 L999.5 1129.8 M1001.9 1129.2 L1004.8 1128.3 M1007.2 1126.8 L1010.3 1126.7 M1012.6 1128.3 L1015.6 1128.8" stroke="#00f" stroke-width="9.4"/>
</g>
<g font-size="80" text-anchor="middle">
<text transform="translate(343.1 1234.9) scale(1 1.065)">300</text>
<text transform="translate(612 1234.9) scale(1 1.065)">400</text>
<text transform="translate(880.9 1234.9) scale(1 1.065)">500</text>
<text transform="translate(1149.8 1234.9) scale(1 1.065)">600</text>
<text transform="translate(1418.7 1234.9) scale(1 1.065)">700</text>
<text transform="translate(1687.6 1234.9) scale(1 1.065)">800</text>
<text x="949" y="1363">Wavelength (nm)</text>
<text font-size="79.7" transform="translate(104.9 607) rotate(-90)">Emisssion Intensity</text>
</g>
</svg></body></html>
